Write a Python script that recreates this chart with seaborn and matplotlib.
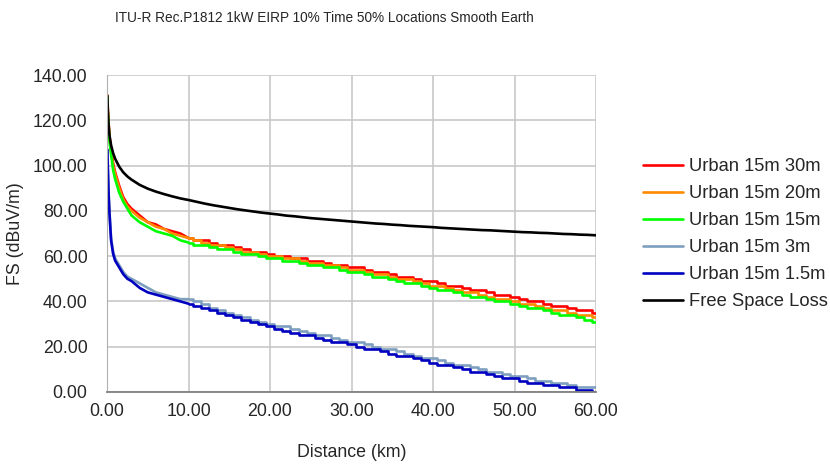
import numpy as np
import pandas as pd
import matplotlib
matplotlib.use("Agg")
import matplotlib.pyplot as plt
import seaborn as sns

# distance points (km)
dist_km = [0.05, 0.1, 0.2, 0.3, 0.5, 0.75, 1, 1.5, 2, 2.5, 3, 4, 5, 6, 7, 8, 9, 10,
           11, 12, 13, 14, 15, 16, 17, 18, 19, 20, 21, 22, 23, 24, 25, 26, 27, 28, 29, 30,
           31, 32, 33, 34, 35, 36, 37, 38, 39, 40, 41, 42, 43, 44, 45, 46, 47, 48, 49, 50,
           51, 52, 53, 54, 55, 56, 57, 58, 59, 60]

# field strength (dBuV/m)
urban_30m = [131, 125, 119, 113, 107, 101, 97, 91, 86, 83, 81, 78, 75, 74, 72, 71, 70, 68,
             67, 67, 66, 65, 65, 64, 63, 62, 62, 61, 60, 60, 59, 59, 58, 58, 57, 56, 56, 55,
             55, 54, 53, 53, 52, 51, 51, 50, 49, 49, 48, 47, 47, 46, 45, 45, 44, 43, 43, 42,
             41, 40, 40, 39, 38, 38, 37, 36, 36, 35]
urban_20m = [131, 124, 118, 112, 106, 100, 96, 90, 85, 82, 80, 77, 75, 73, 72, 70, 69, 68,
             67, 66, 65, 65, 64, 63, 62, 62, 61, 60, 60, 59, 59, 58, 57, 57, 56, 56, 55, 54,
             54, 53, 52, 52, 51, 50, 50, 49, 48, 47, 47, 46, 45, 44, 44, 43, 42, 41, 41, 40,
             39, 39, 38, 37, 36, 36, 35, 34, 34, 33]
urban_15m = [130, 123, 117, 111, 105, 98, 94, 88, 84, 81, 78, 75, 73, 71, 70, 69, 67, 66,
             65, 65, 64, 63, 63, 62, 61, 61, 60, 59, 59, 58, 58, 57, 56, 56, 55, 55, 54, 53,
             53, 52, 51, 51, 50, 49, 48, 48, 47, 46, 45, 45, 44, 43, 42, 42, 41, 40, 40, 39,
             38, 37, 37, 36, 35, 34, 34, 33, 32, 31]
urban_3m = [107, 100, 88, 80, 68, 62, 59, 56, 53, 51, 50, 48, 46, 44, 43, 42, 41, 41,
            40, 39, 37, 36, 35, 34, 33, 32, 31, 30, 29, 29, 28, 27, 26, 25, 25, 24, 23, 22,
            22, 21, 20, 19, 19, 18, 17, 16, 15, 15, 14, 13, 12, 12, 11, 10, 9, 9, 8, 7,
            7, 6, 5, 5, 4, 4, 3, 2, 2, 2]
urban_1_5m = [107, 99, 87, 79, 67, 61, 58, 55, 52, 50, 49, 46, 44, 43, 42, 41, 40, 39,
              38, 37, 36, 35, 34, 33, 32, 31, 30, 29, 28, 27, 26, 25, 25, 24, 23, 22, 22, 21,
              20, 19, 19, 18, 17, 16, 16, 15, 14, 13, 12, 12, 11, 10, 9, 9, 8, 7, 6, 6,
              5, 4, 4, 3, 3, 2, 2, 1, 1, 0]
free_space = [130.8, 124.0, 117.5, 113.5, 109.0, 105.5, 103.0, 99.5, 97.0, 95.2, 93.8, 91.5,
              89.8, 88.5, 87.4, 86.4, 85.5, 84.8,
              84.0, 83.2, 82.5, 81.9, 81.3, 80.7, 80.2, 79.7, 79.2, 78.8, 78.4, 77.9, 77.6,
              77.2, 76.8, 76.5, 76.2, 75.9, 75.6, 75.3, 75.0, 74.7, 74.4, 74.2, 73.9, 73.7,
              73.4, 73.2, 73.0, 72.8, 72.5, 72.3, 72.1, 71.9, 71.7, 71.5, 71.4, 71.2, 71.0,
              70.8, 70.6, 70.5, 70.3, 70.2, 70.0, 69.8, 69.7, 69.5, 69.4, 69.2]

labels = ["Urban 15m 30m", "Urban 15m 20m", "Urban 15m 15m",
          "Urban 15m 3m", "Urban 15m 1.5m", "Free Space Loss"]
colors = ["#ff0000", "#ff8a00", "#00ff00", "#7f9fbf", "#0000c0", "#000000"]
series = [urban_30m, urban_20m, urban_15m, urban_3m, urban_1_5m, free_space]

sns.set_style("white")
plt.rcParams["font.family"] = ["Liberation Sans", "DejaVu Sans"]

fig = plt.figure(figsize=(8.3, 4.66), dpi=100)
ax = fig.add_axes([107 / 830, 1 - 392 / 466, 489 / 830, 317 / 466])

lw = 1.9
for lab, col, vals in zip(labels, colors, series):
    df = pd.DataFrame({"dist": dist_km, "fs": vals})
    if lab == "Free Space Loss":
        sns.lineplot(data=df, x="dist", y="fs", ax=ax, color=col, label=lab,
                     linewidth=lw, estimator=None)
        continue
    # steep near part drawn as a plain line, rounded far part as steps
    near = df[df["dist"] <= 10]
    far = df[df["dist"] >= 10]
    sns.lineplot(data=near, x="dist", y="fs", ax=ax, color=col, label=lab,
                 linewidth=lw, estimator=None)
    sns.lineplot(data=far, x="dist", y="fs", ax=ax, color=col, linewidth=lw,
                 estimator=None, drawstyle="steps-mid")

ax.set_xlim(0, 60)
ax.set_ylim(0, 140)
ax.set_xticks(np.arange(0, 61, 10))
ax.set_yticks(np.arange(0, 141, 20))
ax.set_xticklabels([f"{v:.2f}" for v in np.arange(0, 61, 10)])
ax.set_yticklabels([f"{v:.2f}" for v in np.arange(0, 141, 20)])
ax.grid(True, color="#c8c8c8", linewidth=1.2)
ax.set_axisbelow(True)
for s in ["top", "right"]:
    ax.spines[s].set_visible(False)
ax.spines["left"].set_color("#b0b0b0")
ax.spines["bottom"].set_color("#808080")
ax.spines["bottom"].set_linewidth(1.3)
ax.tick_params(axis="y", length=4, color="#b0b0b0", pad=10, labelsize=12.8)
ax.tick_params(axis="x", length=0, pad=8, labelsize=12.8)
ax.set_xlabel("Distance (km)", fontsize=12.8, labelpad=17)
ax.set_ylabel("FS (dBuV/m)", fontsize=12.8, labelpad=6)

fig.text(324 / 830, 1 - 18 / 466,
         "ITU-R Rec.P1812 1kW EIRP 10% Time 50% Locations Smooth Earth",
         fontsize=9.8, ha="center", va="center")

ax.legend(loc="upper left", bbox_to_anchor=(643 / 830, 1 - 158 / 466),
          bbox_transform=fig.transFigure, frameon=False, fontsize=13.2,
          handlelength=2.2, handletextpad=0.3, labelspacing=0.55,
          borderpad=0, borderaxespad=0)

fig.savefig("out.png", dpi=100)
